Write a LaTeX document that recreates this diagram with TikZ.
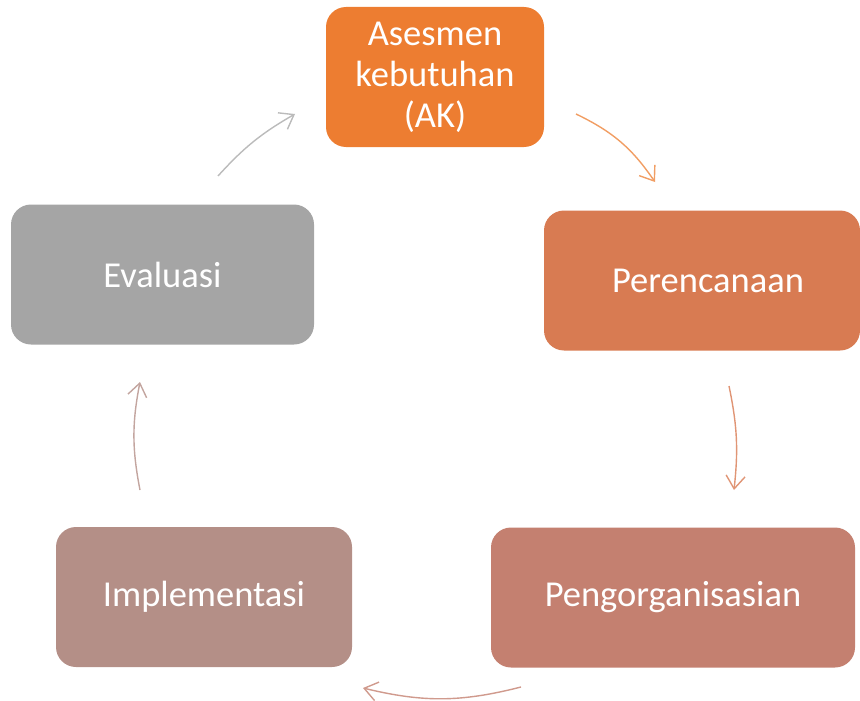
\documentclass[tikz,border=0pt]{standalone}
\usepackage{fontspec}
\setmainfont{Carlito}
\usepackage{xcolor}
\usepackage{tikz}
\usetikzlibrary{arrows.meta}
\definecolor{akorange}{HTML}{ED7D31}
\definecolor{planorange}{HTML}{D87B52}
\definecolor{orgbrown}{HTML}{C48070}
\definecolor{implbrown}{HTML}{B48F87}
\definecolor{evalgray}{HTML}{A5A5A5}

\begin{document}
\begin{tikzpicture}[x=1pt,y=1pt,>={Straight Barb[length=13pt,width=19pt]},
            stage/.style={rounded corners=20pt,text=white,minimum height=140pt,
              inner sep=0pt,align=center,font=\fontsize{36.5}{41}\selectfont},
            cyc/.style={->,line width=1.4pt},
            ]
\useasboundingbox (0,0) rectangle (860,-701);
\node[stage,fill=akorange,minimum width=218pt] (ak) at (435,-77) {Asesmen\\kebutuhan\\(AK)};
\node[stage,fill=planorange,minimum width=316pt] (plan) at (702,-280.5) {\hspace*{12pt}Perencanaan};
\node[stage,fill=orgbrown,minimum width=364pt] (org) at (673,-597.5) {Pengorganisasian};
\node[stage,fill=implbrown,minimum width=296pt] (impl) at (204,-597) {Implementasi};
\node[stage,fill=evalgray,minimum width=303pt] (eval) at (162.5,-274.5) {Evaluasi};
\coordinate (from-ak) at (576,-114);
\coordinate (to-plan) at (655,-182);
\coordinate (from-plan) at (729,-386);
\coordinate (to-org) at (734,-490);
\coordinate (from-org) at (521,-687);
\coordinate (to-impl) at (363,-688);
\coordinate (from-impl) at (140,-490);
\coordinate (to-eval) at (140,-382);
\coordinate (from-eval) at (218,-176);
\coordinate (to-ak) at (295,-114);
\draw[cyc,akorange!75] (from-ak) to[bend left=15] (to-plan);
\draw[cyc,planorange!80] (from-plan) to[bend left=9] (to-org);
\draw[cyc,orgbrown!80] (from-org) to[bend left=14] (to-impl);
\draw[cyc,implbrown!80] (from-impl) to[bend left=11] (to-eval);
\draw[cyc,evalgray!75] (from-eval) to[bend left=9] (to-ak);
\end{tikzpicture}
\end{document}
